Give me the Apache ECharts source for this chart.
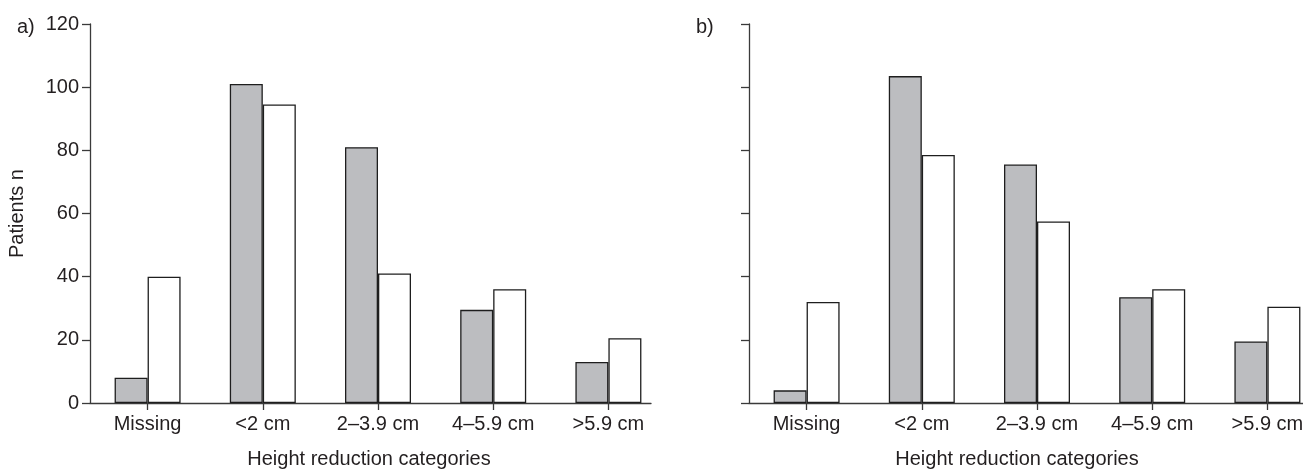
<!DOCTYPE html>
<html>
<head>
<meta charset="utf-8">
<script src="https://cdn.jsdelivr.net/npm/echarts@6/dist/echarts.min.js"></script>
<style>
  html, body { margin: 0; padding: 0; background: #fff; }
  #chart { width: 1303px; height: 469px; }
</style>
</head>
<body>
<div id="chart"></div>
<script>
const categories = ['Missing', '<2 cm', '2–3.9 cm', '4–5.9 cm', '>5.9 cm']
const panelAGrey = [8, 101, 81, 29.5, 13]
const panelAWhite = [40, 94.5, 41, 36, 20.5]
const panelBGrey = [4, 103.5, 75.5, 33.5, 19.5]
const panelBWhite = [32, 78.5, 57.5, 36, 30.5]
const yTicks = { min: 0, max: 120, interval: 20 }

const ink = '#231f20'
const lineColor = '#3a3a3a'
const font = 'Liberation Sans, Arial, sans-serif'
const fs = 20

const chart = echarts.init(document.getElementById('chart'))

// category axis carries ticks/labels; its own line is hidden because the
// original baseline stops short of the last band
function xAxisFor(gridIndex, namePad) {
  return {
    gridIndex, type: 'category', data: categories,
    axisLine: { show: false },
    axisTick: { show: true, alignWithLabel: true, length: 7, lineStyle: { color: lineColor, width: 1.3 } },
    axisLabel: { color: ink, fontSize: fs, fontFamily: font, margin: 11, interval: 0 },
    name: 'Height reduction categories', nameLocation: 'middle', nameGap: 46,
    nameTextStyle: { color: ink, fontSize: fs, fontFamily: font, padding: namePad },
  }
}

function baselineAxis(gridIndex) {
  return {
    gridIndex, type: 'value', min: 0, max: 1,
    axisLine: { show: true, onZero: false, lineStyle: { color: lineColor, width: 1.3 } },
    axisTick: { show: false }, axisLabel: { show: false }, splitLine: { show: false },
  }
}

function yAxisFor(gridIndex, showLabels) {
  return {
    gridIndex, type: 'value', ...yTicks,
    splitLine: { show: false },
    axisLine: { show: true, lineStyle: { color: lineColor, width: 1.3 } },
    axisTick: { show: true, length: 8, lineStyle: { color: lineColor, width: 1.3 } },
    axisLabel: { show: showLabels, color: ink, fontSize: fs, fontFamily: font, margin: 11 },
    name: showLabels ? 'Patients n' : '', nameLocation: 'middle', nameGap: 63,
    nameTextStyle: { color: ink, fontSize: fs, fontFamily: font },
  }
}

function hiddenY(gridIndex) {
  return { gridIndex, type: 'value', min: 0, max: 1, show: false }
}

function barSeries(idx, values, fill) {
  return {
    type: 'bar', xAxisIndex: idx, yAxisIndex: idx, data: values,
    barWidth: 33, barGap: '0%',
    itemStyle: { color: fill, borderColor: '#1e1e1e', borderWidth: 1.3 },
    silent: true,
  }
}

chart.setOption({
  animation: false,
  title: [
    { text: 'a)', left: 12, top: 12, textStyle: { color: ink, fontSize: fs, fontWeight: 'normal', fontFamily: font } },
    { text: 'b)', left: 691, top: 12, textStyle: { color: ink, fontSize: fs, fontWeight: 'normal', fontFamily: font } },
  ],
  grid: [
    { left: 90, top: 24, width: 576, height: 379, outerBoundsMode: 'none' },
    { left: 749, top: 24, width: 576, height: 379, outerBoundsMode: 'none' },
    { left: 90, top: 24, width: 561, height: 379, outerBoundsMode: 'none' },
    { left: 749, top: 24, width: 561, height: 379, outerBoundsMode: 'none' },
  ],
  xAxis: [xAxisFor(0, [0, 18, 0, 0]), xAxisFor(1, [0, 40, 0, 0]), baselineAxis(2), baselineAxis(3)],
  yAxis: [yAxisFor(0, true), yAxisFor(1, false), hiddenY(2), hiddenY(3)],
  series: [
    barSeries(0, panelAGrey, '#bcbdc0'),
    barSeries(0, panelAWhite, '#ffffff'),
    barSeries(1, panelBGrey, '#bcbdc0'),
    barSeries(1, panelBWhite, '#ffffff'),
  ],
})
</script>
</body>
</html>
